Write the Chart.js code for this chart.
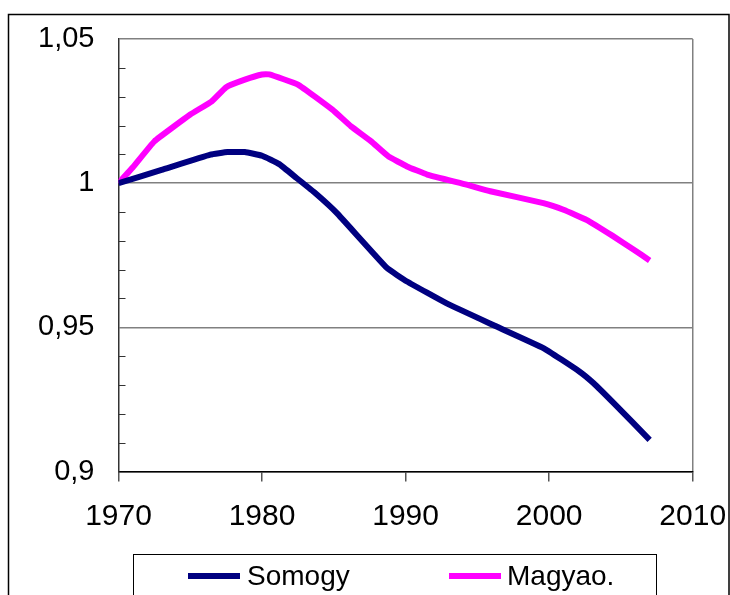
<!DOCTYPE html>
<html>
<head>
<meta charset="utf-8">
<script src="https://cdn.jsdelivr.net/npm/chart.js@4"></script>
<style>
  html, body { margin: 0; padding: 0; background: #fff; }
  #wrap { width: 730px; height: 595px; }
</style>
</head>
<body>
<div id="wrap"><canvas id="c" width="730" height="595"></canvas></div>
<script>
const seriesNames = ["Somogy", "Magyao."];
const seriesColors = ["#000080", "#FF00FF"];

const somogyYears = [1970, 1973, 1976.4, 1977.6, 1978.8, 1980.0, 1981.2, 1982.4, 1983.7, 1985.2, 1988.7, 1990.1, 1992.9, 1996.1, 1999.6, 2002.1, 2003.1, 2004.5, 2007.0];
const somogyValues = [1.000, 1.0046, 1.0099, 1.0108, 1.0108, 1.0095, 1.0066, 1.0018, 0.9966, 0.9897, 0.9706, 0.9659, 0.9582, 0.9508, 0.9428, 0.9347, 0.9306, 0.9237, 0.9110];

const magyaoYears = [1970, 1971, 1972.5, 1975.0, 1976.5, 1977.5, 1978.8, 1980.0, 1980.5, 1982.5, 1984.9, 1986.2, 1987.6, 1988.8, 1990.1, 1991.5, 1994.25, 1995.9, 1999.6, 2001.0, 2002.6, 2004.4, 2005.9, 2007.0];
const magyaoValues = [1.000, 1.0055, 1.0145, 1.0238, 1.0284, 1.0333, 1.0359, 1.0377, 1.0377, 1.0342, 1.0255, 1.0197, 1.0145, 1.0093, 1.0058, 1.0030, 0.9995, 0.9972, 0.9931, 0.9908, 0.9873, 0.9818, 0.9769, 0.9732];

const xTickValues = [1970, 1980, 1990, 2000, 2010];
const yMajorValues = [0.90, 0.95, 1.00, 1.05];
const yMajorLabels = ["0,9", "0,95", "1", "1,05"];

const FONT = "'Liberation Sans', Arial, sans-serif";

function toPoints(xs, ys) { return xs.map((x, i) => ({ x: x, y: ys[i] })); }
function isMajor(v) { return yMajorValues.some(m => Math.abs(m - v) < 1e-6); }
function majorLabel(v) {
  const i = yMajorValues.findIndex(m => Math.abs(m - v) < 1e-6);
  return i >= 0 ? yMajorLabels[i] : "";
}

const decor = {
  id: "decor",
  afterDraw(chart) {
    const ctx = chart.ctx;
    const y = chart.scales.y;
    const area = chart.chartArea;
    ctx.save();
    // minor inner ticks
    ctx.strokeStyle = "#333";
    ctx.lineWidth = 1;
    y.ticks.forEach(t => {
      if (isMajor(t.value)) return;
      const py = Math.round(y.getPixelForValue(t.value)) + 0.5;
      ctx.beginPath();
      ctx.moveTo(area.left, py);
      ctx.lineTo(area.left + 7, py);
      ctx.stroke();
    });
    // outer frame
    ctx.strokeStyle = "#000";
    ctx.lineWidth = 1.5;
    ctx.strokeRect(8.5, 14.5, 720.5, 600);
    // legend box
    ctx.lineWidth = 1;
    ctx.strokeStyle = "#000";
    ctx.strokeRect(133.5, 554.5, 523, 60);
    const items = [
      { x1: 188, x2: 240, tx: 247 },
      { x1: 449, x2: 501, tx: 507 }
    ];
    ctx.font = "28px " + FONT;
    ctx.textBaseline = "middle";
    ctx.textAlign = "left";
    chart.data.datasets.forEach((ds, i) => {
      const it = items[i];
      ctx.strokeStyle = ds.borderColor;
      ctx.lineWidth = 6;
      ctx.beginPath();
      ctx.moveTo(it.x1, 576);
      ctx.lineTo(it.x2, 576);
      ctx.stroke();
      ctx.fillStyle = "#000";
      ctx.fillText(ds.label, it.tx, 577);
    });
    ctx.restore();
  }
};

new Chart(document.getElementById("c"), {
  type: "line",
  data: {
    datasets: [
      { label: seriesNames[0], data: toPoints(somogyYears, somogyValues), borderColor: seriesColors[0], backgroundColor: seriesColors[0], borderWidth: 6, pointRadius: 0, tension: 0.1, borderJoinStyle: "round" },
      { label: seriesNames[1], data: toPoints(magyaoYears, magyaoValues), borderColor: seriesColors[1], backgroundColor: seriesColors[1], borderWidth: 6, pointRadius: 0, tension: 0.1, borderJoinStyle: "round" }
    ]
  },
  options: {
    responsive: false,
    animation: false,
    devicePixelRatio: 1,
    layout: { padding: { left: 0, top: 39, right: 37.3, bottom: 0 } },
    plugins: { legend: { display: false }, tooltip: { enabled: false } },
    scales: {
      x: {
        type: "linear",
        min: 1970, max: 2010,
        afterBuildTicks(scale) { scale.ticks = xTickValues.map(v => ({ value: v })); },
        afterFit(scale) { scale.height = 123.5; scale.paddingLeft = 0; scale.paddingRight = 0; },
        grid: {
          drawOnChartArea: true,
          color: ctx => (ctx.tick && ctx.tick.value === 2010) ? "#808080" : "rgba(0,0,0,0)",
          lineWidth: 1.5,
          tickLength: 10,
          tickColor: "#555",
          drawTicks: true
        },
        border: { display: true, color: "#000", width: 1.5 },
        ticks: {
          font: { family: FONT, size: 30 },
          color: "#000",
          padding: 17,
          maxRotation: 0,
          callback: v => String(v)
        }
      },
      y: {
        type: "linear",
        min: 0.9, max: 1.05,
        afterFit(scale) { scale.width = 118.5; scale.paddingTop = 0; scale.paddingBottom = 0; },
        ticks: {
          stepSize: 0.01,
          font: { family: FONT, size: 29 },
          color: "#000",
          padding: 24,
          autoSkip: false,
          callback: v => majorLabel(v)
        },
        grid: {
          drawTicks: false,
          color: ctx => (ctx.tick && isMajor(ctx.tick.value)) ? "#808080" : "rgba(0,0,0,0)",
          lineWidth: 1.5
        },
        border: { display: true, color: "#333", width: 1.5 }
      }
    }
  },
  plugins: [decor]
});
</script>
</body>
</html>
